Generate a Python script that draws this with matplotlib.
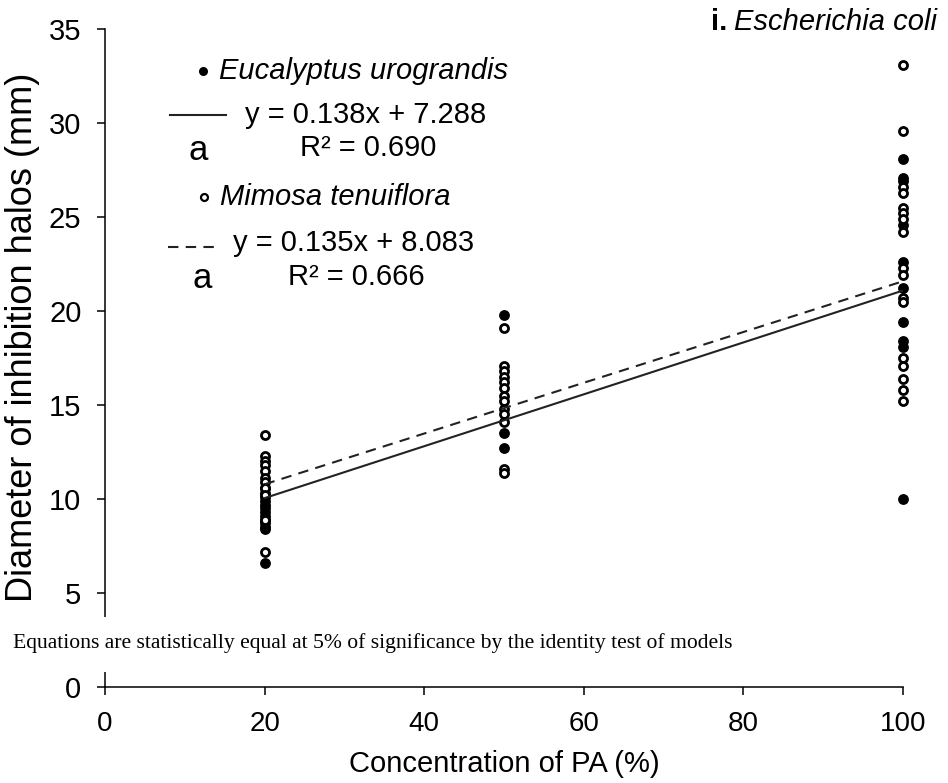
import matplotlib.pyplot as plt
from matplotlib.lines import Line2D
from matplotlib.patches import Rectangle

plt.rcParams['font.family'] = ['Liberation Sans', 'DejaVu Sans']

# Concentration levels of PA (%)
conc = [20, 50, 100]

# Eucalyptus urograndis (filled dots), halo diameters (mm)
euc_20 = [10.6, 10.3, 10.1, 9.9, 9.7, 9.5, 9.3, 9.1, 8.9, 8.7, 8.5, 8.4, 6.6]
euc_50 = [19.8, 13.5, 12.7]
euc_100 = [28.1, 27.1, 26.9, 24.6, 22.6, 21.2, 19.4, 18.4, 18.1, 10.0]

# Mimosa tenuiflora (open dots), halo diameters (mm)
mim_20 = [13.4, 12.3, 12.0, 11.8, 11.5, 11.1, 10.9, 10.6, 10.2, 8.9, 7.2]
mim_50 = [19.1, 17.1, 16.8, 16.5, 16.2, 15.9, 15.5, 15.2, 14.8, 14.5, 14.1, 11.6, 11.4]
mim_100 = [33.1, 29.6, 26.6, 26.3, 25.5, 25.2, 24.9, 24.2, 22.3, 21.9, 20.7, 20.5,
           17.5, 17.1, 16.4, 15.8, 15.2]

# Fitted models: slope, intercept
euc_fit = [0.138, 7.288]
mim_fit = [0.135, 8.083]

W, H = 948, 783


def px(x, y):
    # pixel position -> figure fraction
    return x / W, 1 - y / H


fig = plt.figure(figsize=(W / 100, H / 100), dpi=100)
ax = fig.add_axes([105 / W, 1 - 687 / H, 798 / W, 658 / H])

# Points
for xv, vals in zip(conc, [euc_20, euc_50, euc_100]):
    ax.plot([xv] * len(vals), vals, 'o', color='black', markersize=7.8,
            markeredgewidth=0, zorder=3, clip_on=False)
for xv, vals in zip(conc, [mim_20, mim_50, mim_100]):
    ax.plot([xv] * len(vals), vals, 'o', markerfacecolor='white',
            markeredgecolor='black', markersize=5.8, markeredgewidth=2.0,
            zorder=4, clip_on=False)

# Fitted lines
x_fit = [conc[0], conc[-1]]
ax.plot(x_fit, [euc_fit[0] * v + euc_fit[1] for v in x_fit], '-',
        color='#222222', lw=1.5, zorder=5)
ax.plot(x_fit, [mim_fit[0] * v + mim_fit[1] for v in x_fit], '--',
        color='#222222', lw=1.5, dashes=(5, 3.5), zorder=5)

ax.set_xlim(0, 100)
ax.set_ylim(0, 35)
ax.set_xticks(range(0, 101, 20))
ax.set_yticks(range(0, 36, 5))
ax.spines['top'].set_visible(False)
ax.spines['right'].set_visible(False)
for s in ['left', 'bottom']:
    ax.spines[s].set_linewidth(1.1)
ax.tick_params(axis='both', direction='out', length=6, width=1.1, pad=11)
ax.tick_params(axis='y', labelsize=21)
ax.tick_params(axis='x', labelsize=20)

ax.set_xlabel('Concentration of PA (%)', fontsize=21, labelpad=10)
ax.set_ylabel('Diameter of inhibition halos (mm)', fontsize=26)
ax.yaxis.set_label_coords(-0.082, 0.532)

# White band hiding part of the y axis, with the note
fig.add_artist(Rectangle(px(0, 672), 760 / W, 55 / H, transform=fig.transFigure,
                         facecolor='white', edgecolor='none', zorder=5))
fig.text(*px(13, 643), 'Equations are statistically equal at 5% of significance '
         'by the identity test of models', family='Liberation Serif',
         fontsize=15.6, va='center', ha='left', zorder=6)

# Title
fig.text(*px(711, 22), 'i.', fontsize=21, fontweight='bold', va='center')
fig.text(*px(734, 22), 'Escherichia coli', fontsize=21, style='italic', va='center')

# Legend block
fig.add_artist(Line2D([203 / W], [1 - 71 / H], marker='o', color='black',
                      markersize=6.5, markeredgewidth=0, transform=fig.transFigure))
fig.text(*px(219, 71), 'Eucalyptus urograndis', fontsize=21, style='italic', va='center')
fig.add_artist(Line2D([170 / W, 226 / W], [1 - 115 / H] * 2, color='#222222', lw=1.5,
                      transform=fig.transFigure))
fig.text(*px(245, 115), 'y = 0.138x + 7.288', fontsize=21, va='center')
fig.text(*px(189, 150), 'a', fontsize=25, va='center')
fig.text(*px(300, 148), 'R² = 0.690', fontsize=21, va='center')

fig.add_artist(Line2D([204 / W], [1 - 197 / H], marker='o', markerfacecolor='white',
                      markeredgecolor='black', markersize=5, markeredgewidth=1.6,
                      transform=fig.transFigure))
fig.text(*px(220, 197), 'Mimosa tenuiflora', fontsize=21, style='italic', va='center')
fig.add_artist(Line2D([168 / W, 220 / W], [1 - 247 / H] * 2, color='#222222', lw=1.5,
                      linestyle='--', dashes=(5, 3.5), transform=fig.transFigure))
fig.text(*px(233, 243), 'y = 0.135x + 8.083', fontsize=21, va='center')
fig.text(*px(192, 279), 'a', fontsize=25, va='center')
fig.text(*px(288, 277), 'R² = 0.666', fontsize=21, va='center')

fig.savefig('out.png', dpi=100)
